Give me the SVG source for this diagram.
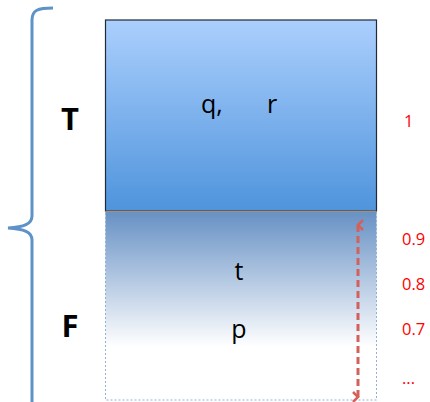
<svg xmlns="http://www.w3.org/2000/svg" width="430" height="402" viewBox="0 0 430 402">
<defs>
<linearGradient id="gTop" x1="0" y1="0" x2="0" y2="1">
<stop offset="0" stop-color="#abcffd"/>
<stop offset="1" stop-color="#4f94dc"/>
</linearGradient>
<linearGradient id="gBot" x1="0" y1="0" x2="0" y2="1">
<stop offset="0" stop-color="#6690c4"/>
<stop offset="0.72" stop-color="#ffffff"/>
<stop offset="1" stop-color="#ffffff"/>
</linearGradient>
<marker id="ah" viewBox="0 0 12 12" refX="6" refY="2" markerWidth="12" markerHeight="12" markerUnits="userSpaceOnUse" orient="auto-start-reverse">
<path d="M1,7 L6,2 L11,7" fill="none" stroke="#d4605b" stroke-width="2.5"/>
</marker>
<style>
.lbl{font-family:"Open Sans","Liberation Sans",sans-serif;font-size:25px;fill:#000}
.big{font-family:"Open Sans","Liberation Sans",sans-serif;font-size:31px;font-weight:bold;fill:#000}
.num{font-family:"Open Sans","Liberation Sans",sans-serif;font-size:16.5px;fill:#ff0000}
</style>
</defs>
<g id="brace">
<path d="M53,8 C38,8 32,10 32,20 L32,216 C32,224 24,227 8,228 C24,229 32,232 32,240 L32,402" fill="none" stroke="#5e93c9" stroke-width="3"/>
</g>
<g id="F-region">
<rect x="105.5" y="211" width="271" height="189" fill="url(#gBot)" stroke="#8fb0d8" stroke-width="1" stroke-dasharray="2,2"/>
<text class="lbl" x="239" y="280" text-anchor="middle">t</text>
<text class="lbl" x="239" y="338" text-anchor="middle">p</text>
</g>
<g id="T-region">
<rect x="105.5" y="20" width="271" height="191" fill="url(#gTop)" stroke="#1f2a3a" stroke-width="1.2"/>
<line x1="105.5" y1="211.5" x2="376.5" y2="211.5" stroke="#a09080" stroke-width="1.5"/>
<text class="lbl" x="201" y="113">q,</text>
<text class="lbl" x="267" y="113">r</text>
</g>
<g id="labels">
<text class="big" x="70" y="130" text-anchor="middle">T</text>
<text class="big" x="70" y="337" text-anchor="middle">F</text>
<text class="num" x="404" y="127">1</text>
<text class="num" x="402" y="245">0.9</text>
<text class="num" x="402" y="290">0.8</text>
<text class="num" x="402" y="335">0.7</text>
<text class="num" x="402" y="384">...</text>
</g>
<g id="connectors">
<line x1="358" y1="225" x2="358" y2="397" stroke="#d4605b" stroke-width="3" stroke-dasharray="7,4" marker-start="url(#ah)" marker-end="url(#ah)"/>
</g>
</svg>
